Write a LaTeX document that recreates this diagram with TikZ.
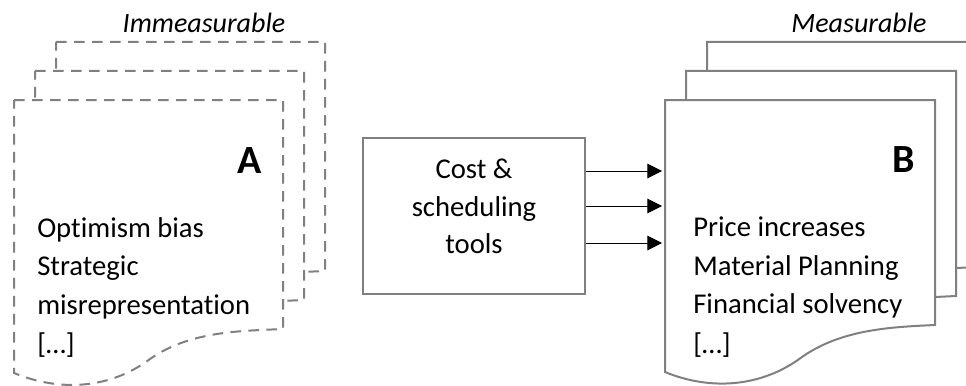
\documentclass[tikz,border=0pt]{standalone}
\usepackage{fontspec}
\setmainfont{Carlito}[Ligatures={NoCommon,TeX}]
\usetikzlibrary{arrows.meta}
\definecolor{docgray}{RGB}{128,128,128}
\begin{document}
\begin{tikzpicture}[x=0.75pt,y=-0.75pt,
  doc/.style={fill=white, draw=docgray, line width=1.5pt, line join=miter},
  dashdoc/.style={doc, dash pattern=on 8pt off 5.5pt},
  txt/.style={font=\fontsize{21.5}{28}\selectfont, inner sep=0pt},
  ttl/.style={font=\fontsize{21}{26}\selectfont\itshape, inner sep=0pt},
  big/.style={font=\fontsize{30}{36}\selectfont\bfseries, inner sep=0pt},
  toolbox/.style={draw=docgray, line width=1.5pt, minimum width=166.5pt, minimum height=117pt, inner sep=0pt},
  arr/.style={line width=0.75pt, -{Triangle[length=11pt,width=11pt]}}]
\clip (0,0) rectangle (966,385);
% left stack (dashed)
\foreach \dx/\dy in {42/-58, 21/-29, 0/0}{
  \path[dashdoc, shift={(14+\dx,100+\dy)}] (0,0) -- (269,0) -- (269,229) .. controls (226,231) and (176,231) .. (136,259) .. controls (96,289) and (46,292) .. (0,273) -- cycle;
}
% right stack (solid)
\foreach \dx/\dy in {42/-58, 21/-29, 0/0}{
  \path[doc, shift={(665+\dx,100+\dy)}] (0,0) -- (270,0) -- (270,225) .. controls (227,227) and (177,229) .. (137,257) .. controls (97,287) and (46,291) .. (0,272) -- cycle;
}
% titles
\node[ttl, anchor=base] (imm) at (204,33) {Immeasurable};
\node[ttl, anchor=base] (mea) at (859,33) {Measurable};
% letters
\node[big, anchor=base east] (A) at (262,173) {A};
\node[big, anchor=base east] (B) at (915,172) {B};
% left list
\node[txt, anchor=base west] (l1) at (37,237) {Optimism bias};
\node[txt, anchor=base west] (l2) at (37,275) {Strategic};
\node[txt, anchor=base west] (l3) at (37,314) {misrepresentation};
\node[txt, anchor=base west] (l4) at (37,353) {[…]};
% right list
\node[txt, anchor=base west] (r1) at (693,236) {Price increases};
\node[txt, anchor=base west] (r2) at (693,275) {Material Planning};
\node[txt, anchor=base west] (r3) at (693,313) {Financial solvency};
\node[txt, anchor=base west] (r4) at (693,353) {[…]};
% middle box
\node[toolbox] (tools) at (474,216) {};
\node[txt, anchor=base] (c1) at (474,178) {Cost \&};
\node[txt, anchor=base] (c2) at (474,216) {scheduling};
\node[txt, anchor=base] (c3) at (474,253) {tools};
% arrows
\coordinate (t1) at (662,171);
\coordinate (t2) at (662,206);
\coordinate (t3) at (662,243);
\draw[arr] (tools.east |- t1) -- (t1);
\draw[arr] (tools.east |- t2) -- (t2);
\draw[arr] (tools.east |- t3) -- (t3);
\end{tikzpicture}
\end{document}
